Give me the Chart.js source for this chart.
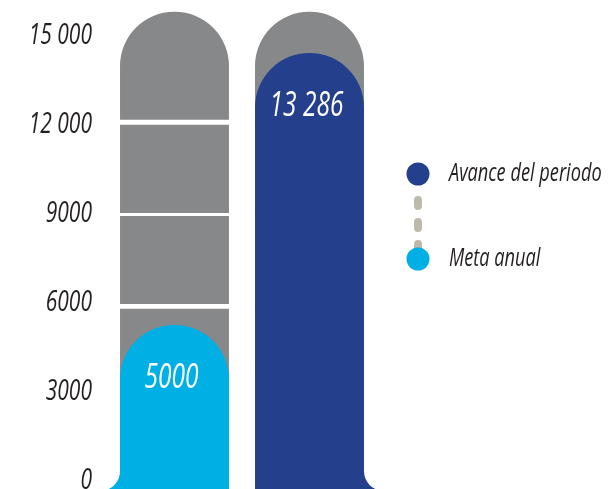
<!DOCTYPE html>
<html>
<head>
<meta charset="utf-8">
<script src="https://cdn.jsdelivr.net/npm/chart.js@4.4.1/dist/chart.umd.min.js"></script>
<style>
  html, body { margin: 0; padding: 0; background: #fff; }
  #wrap { width: 612px; height: 489px; position: relative; }
</style>
</head>
<body>
<div id="wrap"><canvas id="chart"></canvas></div>
<script>
const categories = ['Meta anual', 'Avance del periodo'];
const values = [5000, 13286];
const barColors = ['#00b0e5', '#243f8b'];
const trackBands = [[0, 5490], [5640, 8320], [8410, 11100], [11250, 14540]];
const tickValues = [0, 3000, 6000, 9000, 12000, 15000];
const tickLabels = ['0', '3000', '6000', '9000', '12 000', '15 000'];
const legendOrder = [1, 0];

const FONT = '"Open Sans", Lato, sans-serif';
const INK = '#231f20';
const SX = 0.7; // the original type is a condensed italic
const fmt = n => n >= 10000 ? String(n).replace(/\B(?=(\d{3})+(?!\d))/g, ' ') : String(n);

function narrowText(ctx, text, x, y, size, color, align) {
  ctx.save();
  ctx.translate(x, y);
  ctx.scale(SX, 1);
  ctx.font = `italic ${size}px ${FONT}`;
  ctx.fillStyle = color;
  ctx.textAlign = align;
  ctx.textBaseline = 'middle';
  ctx.fillText(text, 0, 0);
  ctx.restore();
}

const capTop = { topLeft: 60, topRight: 60, bottomLeft: 0, bottomRight: 0 };

const datasets = [{
  label: 'valores',
  data: values,
  backgroundColor: barColors,
  borderRadius: capTop,
  borderSkipped: 'bottom',
  grouped: false,
  order: 0,
  yAxisID: 'y'
}].concat(trackBands.map((b, i) => ({
  label: 'pista ' + i,
  data: categories.map(() => b),
  backgroundColor: '#87888a',
  borderRadius: i === trackBands.length - 1 ? capTop : 0,
  borderSkipped: 'bottom',
  grouped: false,
  order: 1,
  yAxisID: 'y'
})));

// bottom flare on the outer side of each coloured bar
const flares = {
  id: 'flares',
  afterDatasetsDraw(chart) {
    const { ctx, chartArea } = chart;
    const els = chart.getDatasetMeta(0).data;
    const r = 20, bottom = chartArea.bottom + 2;
    els.forEach((el, i) => {
      ctx.save();
      ctx.fillStyle = barColors[i];
      ctx.beginPath();
      if (i === 0) {
        const xl = el.x - el.width / 2;
        ctx.moveTo(xl + 1, bottom - r);
        ctx.lineTo(xl + 1, bottom);
        ctx.lineTo(xl - r, bottom);
        ctx.arc(xl - r, bottom - r, r, Math.PI / 2, 0, true);
      } else if (i === els.length - 1) {
        const xr = el.x + el.width / 2;
        ctx.moveTo(xr - 1, bottom - r);
        ctx.lineTo(xr - 1, bottom);
        ctx.lineTo(xr + r, bottom);
        ctx.arc(xr + r, bottom - r, r, Math.PI / 2, Math.PI, false);
      }
      ctx.closePath();
      ctx.fill();
      ctx.restore();
    });
  }
};

const valueLabels = {
  id: 'valueLabels',
  afterDatasetsDraw(chart) {
    chart.getDatasetMeta(0).data.forEach((el, i) => {
      narrowText(chart.ctx, fmt(values[i]), el.x - 3, el.y + 53, 35, '#fff', 'center');
    });
  }
};

// y labels drawn from the tick scale, condensed like the original
const axisLabels = {
  id: 'axisLabels',
  afterDraw(chart) {
    const s = chart.scales.yt;
    s.ticks.forEach((t, i) => {
      narrowText(chart.ctx, tickLabels[i], s.right - 15, s.getPixelForValue(t.value), 30, INK, 'right');
    });
  }
};

const legend = {
  id: 'sideLegend',
  afterDraw(chart) {
    const { ctx } = chart;
    const cx = 418, ys = [174, 259];
    ctx.save();
    ctx.strokeStyle = '#bdb9ab';
    ctx.lineWidth = 8;
    ctx.lineCap = 'round';
    ctx.setLineDash([6, 16]);
    ctx.beginPath();
    ctx.moveTo(cx, 200);
    ctx.lineTo(cx, 252);
    ctx.stroke();
    ctx.setLineDash([]);
    legendOrder.forEach((k, j) => {
      ctx.fillStyle = barColors[k];
      ctx.beginPath();
      ctx.arc(cx, ys[j], 11.5, 0, Math.PI * 2);
      ctx.fill();
      narrowText(ctx, categories[k], 449, ys[j], 26, INK, 'left');
    });
    ctx.restore();
  }
};

new Chart(document.getElementById('chart'), {
  type: 'bar',
  data: { labels: categories, datasets },
  options: {
    responsive: true,
    maintainAspectRatio: false,
    animation: false,
    layout: { padding: { left: 0, right: 235, top: 0, bottom: 0 } },
    datasets: { bar: { categoryPercentage: 1, barPercentage: 0.807 } },
    plugins: { legend: { display: false }, tooltip: { enabled: false } },
    scales: {
      x: { display: false },
      y: { display: false, min: 0, max: 14900 },
      yt: {
        position: 'left',
        min: -283,
        max: 16182,
        grid: { display: false },
        border: { display: false },
        afterBuildTicks: s => { s.ticks = tickValues.map(v => ({ value: v })); },
        afterFit: s => { s.width = 107; s.paddingTop = 0; s.paddingBottom = 0; },
        ticks: { display: false }
      }
    }
  },
  plugins: [flares, valueLabels, axisLabels, legend]
});
</script>
</body>
</html>
